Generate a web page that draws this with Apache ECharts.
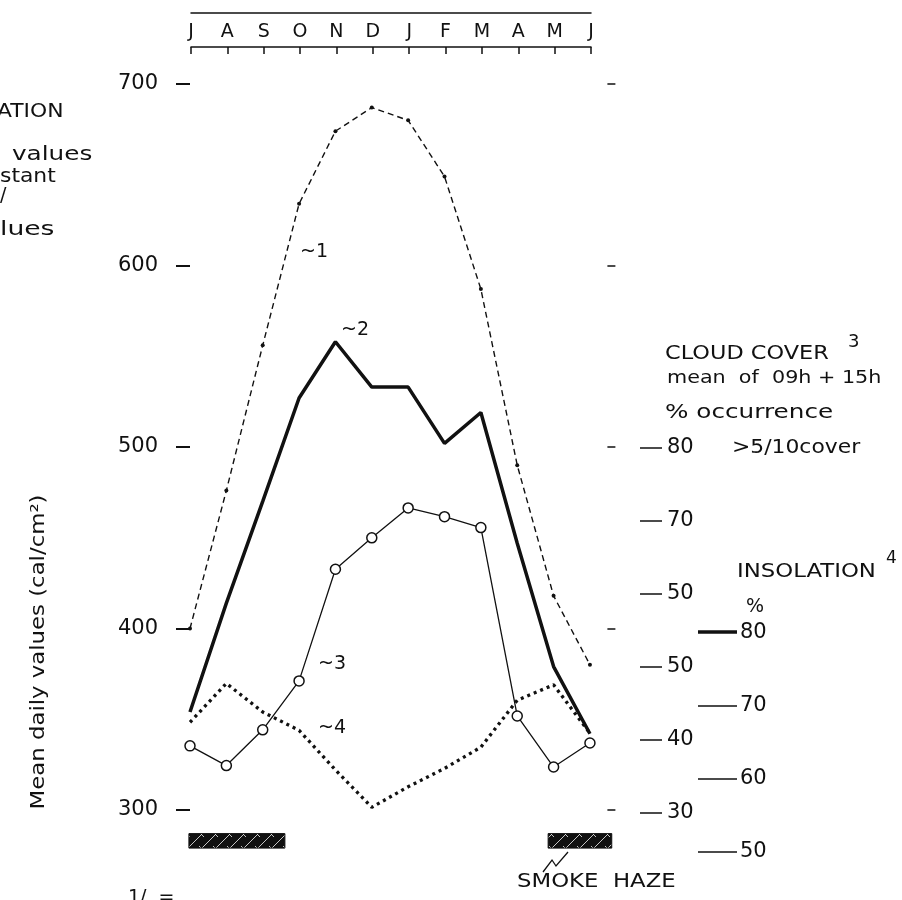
<!DOCTYPE html>
<html><head><meta charset="utf-8">
<script src="https://cdn.jsdelivr.net/npm/echarts@6/dist/echarts.min.js"></script>
<style>html,body{margin:0;padding:0;background:#fff}#c{width:902px;height:900px}</style>
</head><body><div id="c"></div>
<script>
// ---- data ----
const months = ['J','A','S','O','N','D','J','F','M','A','M','J'];
const monthIdx = [0,1,2,3,4,5,6,7,8,9,10,11];
const curve1 = [400,476,556,634,674,687,680,649,587,490,418,380];   // cal/cm2
const curve2 = [354,414,470,527,558,533,533,502,519,447,379,342];   // cal/cm2
const cloudCover = [39.2,36.5,41.4,48.1,63.4,67.7,71.8,70.6,69.1,43.3,36.3,39.6]; // % occurrence >5/10
const insolation = [67.7,73.0,69.1,66.6,61.2,56.1,58.9,61.4,64.3,70.7,72.8,66.2]; // %
const leftTicks = [300,400,500,600,700];
const cloudTicks = [30,40,50,60,70,80];
const cloudTickLabels = ['30','40','50','50','70','80'];
const insolTicks = [50,60,70];
const insolMainTick = [80];
const insolLabelValues = [50,60,70,80];
const insolTickLabels = ['50','60','70','80'];
const hazeFrom = [-0.03, 9.85];
const hazeTo = [2.61, 11.6];

const FONT = '"DejaVu Sans", sans-serif';
const ink = '#111';

function hatch(){
  const c=document.createElement('canvas'); c.width=14; c.height=14;
  const g=c.getContext('2d'); g.fillStyle='#111'; g.fillRect(0,0,14,14);
  g.strokeStyle='rgba(255,255,255,0.85)'; g.lineWidth=0.9;
  g.beginPath(); g.moveTo(0,14); g.lineTo(14,0); g.moveTo(3,6); g.lineTo(8,11); g.stroke();
  return c;
}
const pat = {image: hatch(), repeat: 'repeat'};

const pts = arr => arr.map((v,i)=>[monthIdx[i], v]);

const chart = echarts.init(document.getElementById('c'), null, {renderer:'canvas'});
const txt = (text, x, y, opt={}) => ({type:'text', x, y, rotation:opt.rot||0, scaleX:opt.sx||1,
  style:{text, x:0, y:0, font:(opt.size||19)+'px '+FONT, fill:ink, textAlign:opt.align||'left', textVerticalAlign:'middle'}});

chart.setOption({
  animation:false,
  backgroundColor:'#fff',
  grid:[
    {left:180, right:286.6, top:47.7, bottom:17.4},
    {left:191, right:311, top:13, height:34}
  ],
  xAxis:[
    {gridIndex:0, type:'value', min:-0.275, max:11.7, show:false},
    {gridIndex:1, type:'value', min:0, max:11, position:'bottom',
      axisLine:{show:true, lineStyle:{color:ink, width:1.5}},
      axisTick:{show:true, customValues:monthIdx, length:7, lineStyle:{color:ink, width:1.5}},
      axisLabel:{inside:true, customValues:monthIdx, formatter:v=>months[v], margin:5, fontSize:19, color:ink, fontFamily:FONT},
      splitLine:{show:false}},
    {gridIndex:1, type:'value', min:0, max:11, position:'top',
      axisLine:{show:true, lineStyle:{color:ink, width:1.5}},
      axisTick:{show:false}, axisLabel:{show:false}, splitLine:{show:false}}
  ],
  yAxis:[
    {gridIndex:0, type:'value', min:260, max:720, position:'left',
      axisLine:{show:false}, splitLine:{show:false},
      axisTick:{show:true, customValues:leftTicks, length:14, lineStyle:{color:ink, width:2}},
      axisLabel:{customValues:leftTicks, margin:22, fontSize:21, color:ink, fontFamily:FONT}},
    {gridIndex:0, type:'value', min:260, max:720, position:'right',
      axisLine:{show:false}, splitLine:{show:false},
      axisTick:{show:true, inside:true, customValues:leftTicks, length:8, lineStyle:{color:ink, width:1.5}},
      axisLabel:{show:false}},
    {gridIndex:0, type:'value', min:20.47, max:134.84, position:'right', offset:24.6,
      axisLine:{show:false}, splitLine:{show:false},
      axisTick:{show:true, customValues:cloudTicks, length:22, lineStyle:{color:ink, width:1.5}},
      axisLabel:{customValues:cloudTicks, formatter:v=>cloudTickLabels[cloudTicks.indexOf(v)], margin:27, fontSize:21, color:ink, fontFamily:FONT}},
    {gridIndex:0, type:'value', min:45.83, max:159.7, position:'right', offset:82.6,
      axisLine:{show:false}, splitLine:{show:false},
      axisTick:{show:true, customValues:insolTicks, length:39, lineStyle:{color:ink, width:1.5}},
      axisLabel:{customValues:insolLabelValues, formatter:v=>insolTickLabels[insolLabelValues.indexOf(v)], margin:42, fontSize:21, color:ink, fontFamily:FONT}},
    {gridIndex:0, type:'value', min:45.83, max:159.7, position:'right', offset:82.6,
      axisLine:{show:false}, splitLine:{show:false},
      axisTick:{show:true, customValues:insolMainTick, length:39, lineStyle:{color:ink, width:3.5}},
      axisLabel:{show:false}},
    {gridIndex:1, type:'value', min:0, max:1, show:false}
  ],
  series:[
    {type:'line', name:'1', xAxisIndex:0, yAxisIndex:0, data:pts(curve1),
      lineStyle:{color:ink, width:1.4, type:[6,4]}, symbol:'circle', symbolSize:4, itemStyle:{color:ink}, z:3},
    {type:'line', name:'2', xAxisIndex:0, yAxisIndex:0, data:pts(curve2),
      lineStyle:{color:ink, width:3.5}, symbol:'none', z:4,
      markArea:{silent:true, itemStyle:{color:pat, borderColor:ink, borderWidth:1},
        data: hazeFrom.map((f,i)=>[{xAxis:f, yAxis:279},{xAxis:hazeTo[i], yAxis:287}])}},
    {type:'line', name:'3', xAxisIndex:0, yAxisIndex:2, data:pts(cloudCover),
      lineStyle:{color:ink, width:1.3}, symbol:'circle', symbolSize:10,
      itemStyle:{color:'#fff', borderColor:ink, borderWidth:1.5}, z:6},
    {type:'line', name:'4', xAxisIndex:0, yAxisIndex:3, data:pts(insolation),
      lineStyle:{color:ink, width:3.3, type:[3,4]}, symbol:'none', z:5}
  ],
  graphic:[
    txt('ATION', -3, 112, {sx:1.15}),
    txt('values', 12, 155, {sx:1.3}),
    txt('stant', 0, 177, {sx:1.15}),
    txt('/', 0, 196),
    txt('lues', 0, 230, {sx:1.4}),
    txt('Mean daily values (cal/cm²)', 39, 652, {align:'center', size:19, rot:Math.PI/2, sx:1.2}),
    txt('CLOUD COVER', 665, 354, {sx:1.18}),
    txt('3', 848, 342, {size:18}),
    txt('mean  of  09h + 15h', 667, 378, {size:18, sx:1.15}),
    txt('% occurrence', 665, 413, {sx:1.3}),
    txt('>5/10cover', 732, 448, {sx:1.15}),
    txt('INSOLATION', 737, 572, {sx:1.2}),
    txt('4', 886, 559, {size:17}),
    txt('%', 755, 607, {align:'center'}),
    txt('SMOKE  HAZE', 517, 882, {sx:1.2}),
    txt('1/  =', 128, 898),
    txt('~1', 300, 252),
    txt('~2', 341, 330),
    txt('~3', 318, 664),
    txt('~4', 318, 728),
    {type:'polyline', shape:{points:[[543,872],[552,860],[556,866],[568,852]]}, style:{stroke:ink, lineWidth:1.3, fill:null}}
  ]
});
</script></body></html>
